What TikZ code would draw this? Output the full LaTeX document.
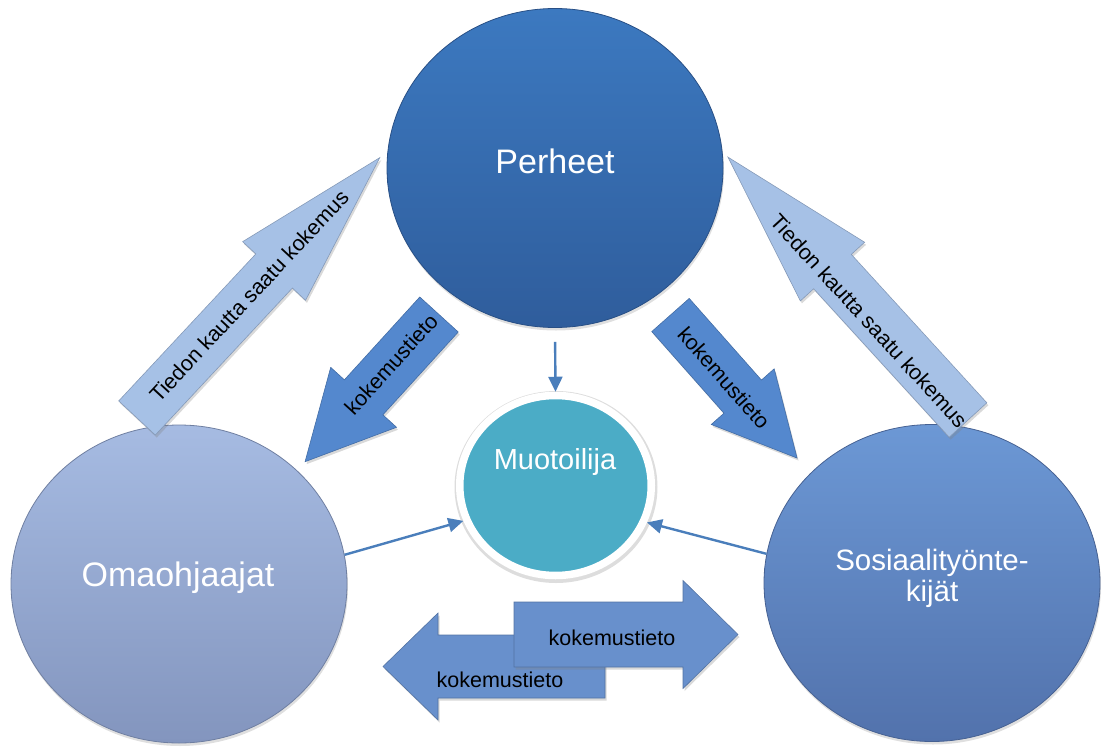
\documentclass[tikz,border=0pt]{standalone}
\usepackage{fontspec}
\setmainfont{Liberation Sans}
\usetikzlibrary{shapes.geometric,shadows,arrows.meta}

\definecolor{perheetTop}{RGB}{60,121,192}
\definecolor{perheetBot}{RGB}{47,93,156}
\definecolor{omaTop}{RGB}{166,187,226}
\definecolor{omaBot}{RGB}{131,149,190}
\definecolor{sosTop}{RGB}{108,152,213}
\definecolor{sosBot}{RGB}{82,114,172}
\definecolor{tealFill}{RGB}{75,172,198}
\definecolor{linkBlue}{RGB}{74,126,187}
\definecolor{lightArrow}{RGB}{166,193,230}
\definecolor{midArrow}{RGB}{84,136,206}
\definecolor{flatArrow}{RGB}{104,144,204}

% tail point, angle, length, shaft width, head width, head length
\def\blockarrow[#1](#2)(#3:#4:#5:#6:#7){\draw[#1, shift={(#2)}, rotate=#3] (0,-#5/2) -- (#4-#7,-#5/2) -- (#4-#7,-#6/2) -- (#4,0) -- (#4-#7,#6/2) -- (#4-#7,#5/2) -- (0,#5/2) -- cycle;}

\begin{document}
\begin{tikzpicture}[x=1pt, y=-1pt,
		circ/.style={ellipse, inner sep=0pt, line width=0.8pt, drop shadow={opacity=0.25, shadow xshift=1pt, shadow yshift=-3pt}},
		circtext/.style={text=white, inner sep=0pt, font=\fontsize{34}{40}\selectfont},
		arrowtext/.style={text=black, inner sep=0pt, font=\fontsize{21.5}{25}\selectfont},
		linkarrow/.style={draw=linkBlue, line width=2.4pt, -{Triangle[length=15pt, width=14pt]}},
		fatarrow/.style={line width=0.6pt, drop shadow={opacity=0.3, shadow xshift=1.5pt, shadow yshift=-2.5pt}}]
			%%%%% START %%%%%
			
			\useasboundingbox (0,0) rectangle (1101,747);
			
			\node[circ, minimum width=336pt, minimum height=319pt, top color=perheetTop, bottom color=perheetBot, draw=perheetBot!85!black] (perheet) at (555,168) {};
			\node[circ, minimum width=336pt, minimum height=318pt, top color=omaTop, bottom color=omaBot, draw=omaBot!85!black] (omaohjaajat) at (179,584) {};
			\node[circ, minimum width=336pt, minimum height=317pt, top color=sosTop, bottom color=sosBot, draw=sosBot!85!black] (sosiaali) at (932,583) {};
			
			% soft halo round the white ring
			\node[ellipse, minimum width=203pt, minimum height=192pt, inner sep=0pt, fill=black!22, opacity=0.6] (muothalo) at (556,487) {};
			\node[ellipse, minimum width=191.5pt, minimum height=180pt, inner sep=0pt, fill=tealFill, draw=white, line width=7.5pt] (muotoilija) at (555.5,485.5) {};
			
			\node[circtext] (perheetlbl) at (555,161) {Perheet};
			\node[circtext] (omalbl) at (178,578) {Omaohjaajat};
			\node[circtext, align=center, font=\fontsize{29.5}{31}\selectfont] (soslbl) at (932,578.5) {Sosiaalityönte-\\kijät};
			\node[circtext, font=\fontsize{29}{34}\selectfont] (muotlbl) at (555,462) {Muotoilija};
			
			\draw[linkarrow, shorten <=14pt] (perheet.south) -- (muotoilija.north);
			\draw[linkarrow] (omaohjaajat.10) -- (muotoilija.201);
			\draw[linkarrow] (sosiaali.170) -- (muotoilija.338);
			
			\blockarrow[fatarrow, fill=lightArrow, draw=lightArrow!80!black](137,418)(47:356:50:86:155)
			\blockarrow[fatarrow, fill=lightArrow, draw=lightArrow!80!black](968,420)(132.4:356:51:87:155)
			\blockarrow[fatarrow, fill=midArrow, draw=midArrow!80!black](439,314.5)(227.7:199:52:89:87)
			\blockarrow[fatarrow, fill=midArrow, draw=midArrow!80!black](670.5,315)(-48.5:191:50:84:82)
			\blockarrow[fatarrow, fill=flatArrow, draw=flatArrow!80!black](605,666.5)(180:222:63:107:55)
			\blockarrow[fatarrow, fill=flatArrow, draw=flatArrow!80!black](514,634.5)(0:224:65:108:55)
			
			\node[arrowtext, rotate=47] (tiedonL) at (249,296) {Tiedon kautta saatu kokemus};
			\node[arrowtext, rotate=-47.6] (tiedonR) at (869,321) {Tiedon kautta saatu kokemus};
			\node[arrowtext, rotate=47.7] (kokeL) at (391,364) {kokemustieto};
			\node[arrowtext, rotate=-48.5] (kokeR) at (724,378) {kokemustieto};
			\node[arrowtext] (kokeTop) at (612,638) {kokemustieto};
			\node[arrowtext] (kokeBot) at (500,680) {kokemustieto};
			
			%%%%% END %%%%%
\end{tikzpicture}
\end{document}
